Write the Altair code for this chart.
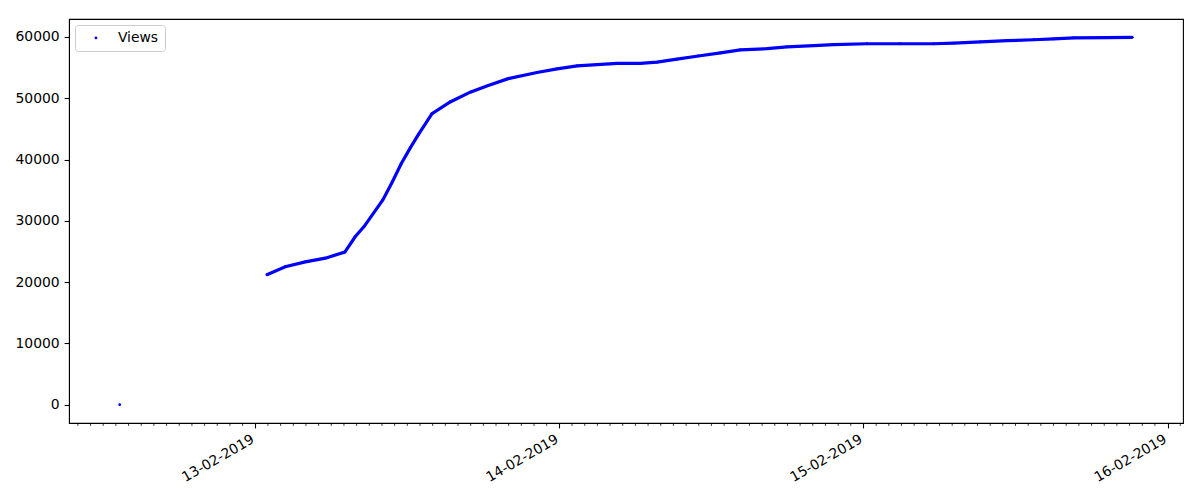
import altair as alt
import pandas as pd

# isolated first observation
first_time = ["2019-02-12T13:18:00"]
first_views = [0]

# main trace
times = [
    "2019-02-13T00:55:00", "2019-02-13T02:22:00", "2019-02-13T03:57:00", "2019-02-13T05:32:00",
    "2019-02-13T07:04:00", "2019-02-13T07:53:00", "2019-02-13T08:36:00", "2019-02-13T10:04:00",
    "2019-02-13T10:47:00", "2019-02-13T11:31:00", "2019-02-13T12:14:00", "2019-02-13T12:53:00",
    "2019-02-13T13:57:00", "2019-02-13T15:23:00", "2019-02-13T16:58:00", "2019-02-13T18:23:00",
    "2019-02-13T19:58:00", "2019-02-13T22:14:00", "2019-02-13T23:49:00", "2019-02-14T01:24:00",
    "2019-02-14T02:59:00", "2019-02-14T04:34:00", "2019-02-14T06:23:00", "2019-02-14T07:43:00",
    "2019-02-14T09:17:00", "2019-02-14T10:58:00", "2019-02-14T12:43:00", "2019-02-14T14:17:00",
    "2019-02-14T16:24:00", "2019-02-14T17:58:00", "2019-02-14T20:05:00", "2019-02-14T21:39:00",
    "2019-02-15T00:17:00", "2019-02-15T02:55:00", "2019-02-15T05:33:00", "2019-02-15T07:08:00",
    "2019-02-15T09:14:00", "2019-02-15T11:20:00", "2019-02-15T13:26:00", "2019-02-15T15:01:00",
    "2019-02-15T16:36:00", "2019-02-15T19:14:00", "2019-02-15T21:13:00",
]
views = [
    21200, 22500, 23300, 23900,
    24900, 27400, 29100, 33400,
    36200, 39300, 41900, 44100,
    47500, 49400, 51000, 52100,
    53200, 54200, 54800, 55300,
    55500, 55700, 55700, 55900,
    56400, 56900, 57400, 57900,
    58100, 58400, 58600, 58750,
    58900, 58900, 58900, 59000,
    59200, 59400, 59550, 59700,
    59850, 59900, 59940,
]

y_ticks = [0, 10000, 20000, 30000, 40000, 50000, 60000]
series_name = "Views"

# hourly minor tick positions (axis decoration)
minor_hours = [t for t in pd.date_range("2019-02-12 10:00", "2019-02-16 01:00", freq="h") if t.hour != 0]
minor_ticks = [t.strftime("%Y-%m-%dT%H:%M:%S") for t in minor_hours]

main = pd.DataFrame({"time": times, "views": views, "series": series_name})
start = pd.DataFrame({"time": first_time, "views": first_views, "series": series_name})
allpts = pd.concat([start, main], ignore_index=True)
minor_df = pd.DataFrame({"time": minor_ticks})

FONT = "DejaVu Sans"
FS = 13.9
W, H = 1114, 404

x_scale = alt.Scale(
    domain=[
        alt.DateTime(year=2019, month=2, date=12, hours=9, minutes=18),
        alt.DateTime(year=2019, month=2, date=16, hours=1, minutes=13),
    ],
    nice=False,
)
y_scale = alt.Scale(domain=[-2997, 62937], nice=False, zero=False)

major_days = [alt.DateTime(year=2019, month=2, date=d) for d in (13, 14, 15, 16)]

x_axis = alt.Axis(
    title=None,
    grid=False,
    values=major_days,
    format="%d-%m-%Y",
    labelAngle=-30,
    labelAlign="right",
    labelBaseline="top",
    labelOverlap=False,
    labelFlush=False,
    labelPadding=4,
    labelOffset=-6,
    tickSize=4.9,
    tickWidth=1.1,
    tickColor="black",
    domainColor="black",
    labelColor="black",
    labelFont=FONT,
    labelFontSize=FS,
)
y_axis = alt.Axis(
    title=None,
    grid=False,
    values=y_ticks,
    format="d",
    tickSize=4.9,
    tickWidth=1.1,
    labelPadding=4.9,
    tickColor="black",
    domainColor="black",
    labelColor="black",
    labelFont=FONT,
    labelFontSize=FS,
    minExtent=56,
    maxExtent=56,
)

line = alt.Chart(main).mark_line(color="blue", strokeWidth=3.2).encode(
    x=alt.X("time:T", scale=x_scale, axis=x_axis),
    y=alt.Y("views:Q", scale=y_scale, axis=y_axis),
)

points = alt.Chart(allpts).mark_circle(size=8, opacity=1).encode(
    x=alt.X("time:T", scale=x_scale),
    y=alt.Y("views:Q", scale=y_scale),
    color=alt.Color(
        "series:N",
        scale=alt.Scale(range=["blue"]),
        legend=alt.Legend(
            title=None,
            orient="top-left",
            offset=6,
            fillColor="white",
            strokeColor="#cccccc",
            cornerRadius=3,
            padding=6,
            symbolType="circle",
            symbolSize=8,
            symbolOffset=8,
            labelOffset=15,
            labelFont=FONT,
            labelFontSize=FS,
            labelColor="black",
        ),
    ),
)

minor = alt.Chart(minor_df).mark_rule(color="black", strokeWidth=0.8, clip=False).encode(
    x=alt.X("time:T", scale=x_scale),
    y=alt.value(H),
    y2=alt.value(H + 2.8),
)

chart = (
    alt.layer(line, points, minor)
    .properties(width=W, height=H, padding={"left": 5, "top": 11, "right": 5, "bottom": 5})
    .configure_view(stroke="black", strokeWidth=1.1)
)

chart.save("out.html", embed_options={"renderer": "svg", "actions": False})
